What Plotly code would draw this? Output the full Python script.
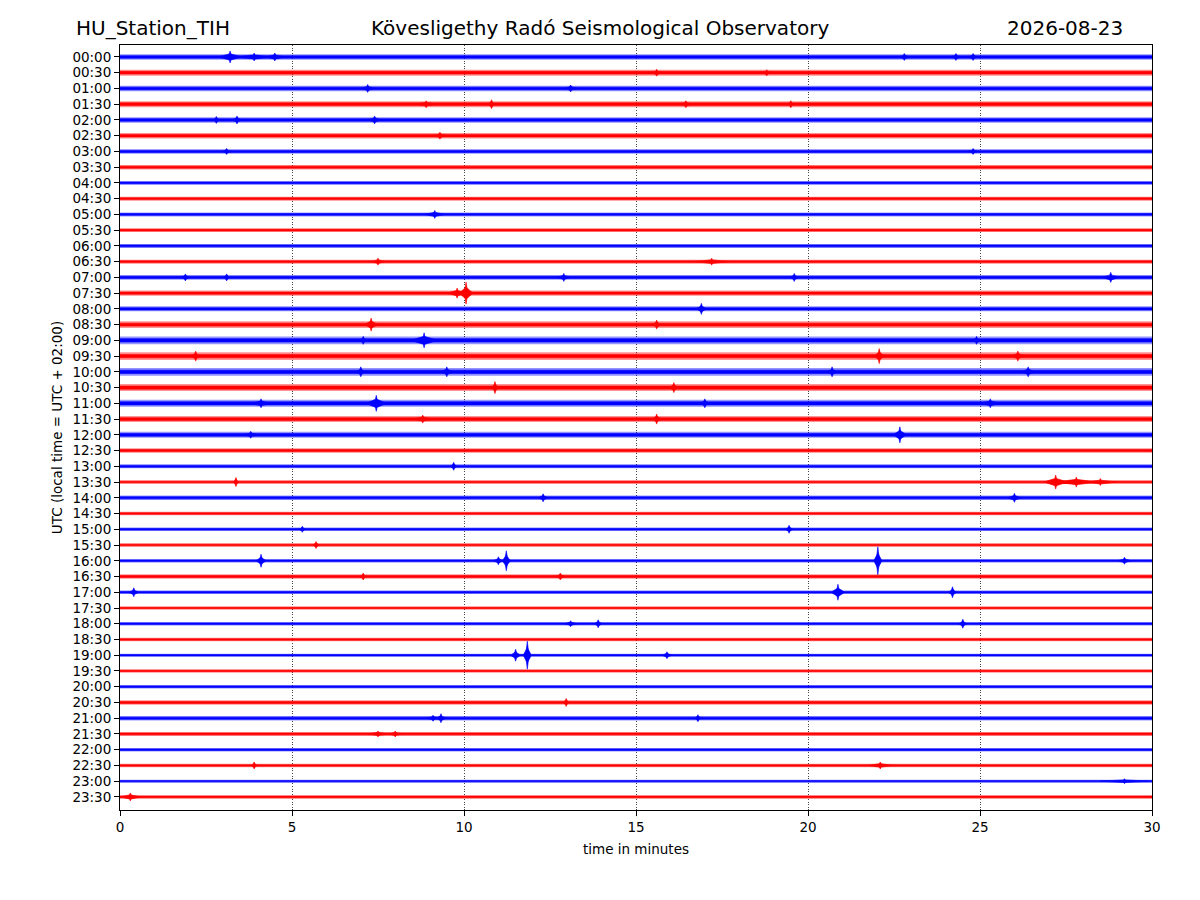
import plotly.graph_objects as go

# ---------------- data ----------------
ROW_LABELS = [
    "00:00", "00:30", "01:00", "01:30", "02:00", "02:30", "03:00", "03:30",
    "04:00", "04:30", "05:00", "05:30", "06:00", "06:30", "07:00", "07:30",
    "08:00", "08:30", "09:00", "09:30", "10:00", "10:30", "11:00", "11:30",
    "12:00", "12:30", "13:00", "13:30", "14:00", "14:30", "15:00", "15:30",
    "16:00", "16:30", "17:00", "17:30", "18:00", "18:30", "19:00", "19:30",
    "20:00", "20:30", "21:00", "21:30", "22:00", "22:30", "23:00", "23:30",
]

# background noise half-amplitude of each 30-minute line (in line spacings)
BASE_AMP = [
    0.178, 0.191, 0.178, 0.191, 0.172, 0.172, 0.146, 0.140, 0.114, 0.127,
    0.127, 0.114, 0.127, 0.127, 0.146, 0.159, 0.159, 0.210, 0.241, 0.241,
    0.241, 0.222, 0.222, 0.191, 0.191, 0.146, 0.127, 0.114, 0.146, 0.114,
    0.114, 0.114, 0.114, 0.140, 0.114, 0.102, 0.114, 0.108, 0.095, 0.102,
    0.114, 0.140, 0.146, 0.127, 0.114, 0.114, 0.095, 0.114,
]

# seismic events / bursts: line index, minute, peak half-amplitude, half-duration (min)
EVENT_ROW = [0, 0, 0, 0, 0, 0, 1, 1, 2, 2, 3, 3, 3, 3, 4, 4, 4, 5, 6, 6,
             10, 13, 13, 14, 14, 14, 14, 14, 15, 15, 16, 17, 17, 18, 18, 18,
             19, 19, 19, 20, 20, 20, 20, 21, 21, 22, 22, 22, 22, 23, 23, 24, 24,
             26, 27, 27, 27, 27, 28, 28, 30, 30, 31, 32, 32, 32, 32, 32, 33, 33,
             34, 34, 34, 36, 36, 36, 38, 38, 38, 41, 42, 42, 42, 43, 43, 45, 45,
             46, 47]
EVENT_MINUTE = [3.2, 3.9, 4.5, 22.8, 24.3, 24.8, 15.6, 18.8, 7.2, 13.1, 10.8, 8.9,
                16.45, 19.5, 2.8, 3.4, 7.4, 9.3, 3.1, 24.8,
                9.15, 7.5, 17.2, 1.9, 3.1, 12.9, 19.6, 28.8, 9.8, 10.06, 16.9, 7.3,
                15.6, 7.07, 8.84, 24.9,
                2.2, 22.07, 26.1, 7.0, 9.5, 20.7, 26.4, 10.9, 16.1, 4.1, 7.45, 17.0,
                25.3, 8.8, 15.6, 3.8, 22.67,
                9.7, 3.37, 27.2, 27.8, 28.5, 12.3, 26.0, 5.3, 19.45, 5.7, 4.1, 11.0,
                11.23, 22.03, 29.2, 7.07, 12.8,
                0.4, 20.87, 24.2, 13.1, 13.9, 24.5, 11.5, 11.84, 15.9, 12.97, 9.1,
                9.33, 16.8, 7.5, 8.0, 3.9, 22.1,
                29.2, 0.3]
EVENT_AMP = [0.38, 0.254, 0.254, 0.222, 0.222, 0.222, 0.222, 0.19, 0.254, 0.222,
             0.286, 0.222, 0.222, 0.222, 0.222, 0.254, 0.254, 0.222, 0.19, 0.19,
             0.254, 0.222, 0.222, 0.222, 0.222, 0.254, 0.254, 0.318, 0.318, 0.699,
             0.35, 0.413, 0.286, 0.254, 0.476, 0.254,
             0.318, 0.476, 0.318, 0.318, 0.318, 0.318, 0.318, 0.381, 0.318, 0.286,
             0.508, 0.286, 0.286, 0.254, 0.318, 0.222, 0.508,
             0.254, 0.286, 0.445, 0.318, 0.222, 0.254, 0.286, 0.19, 0.254, 0.222,
             0.413, 0.254, 0.635, 0.889, 0.222, 0.222, 0.222,
             0.286, 0.508, 0.35, 0.19, 0.254, 0.286, 0.381, 0.889, 0.222, 0.254,
             0.19, 0.286, 0.222, 0.19, 0.19, 0.222, 0.222,
             0.159, 0.254]
EVENT_DURATION = [0.35, 0.5, 0.3, 0.15, 0.15, 0.15, 0.15, 0.15, 0.2, 0.2, 0.12, 0.3,
                  0.2, 0.12, 0.1, 0.15, 0.2, 0.2, 0.15, 0.15,
                  0.3, 0.2, 0.5, 0.15, 0.1, 0.2, 0.15, 0.25, 0.3, 0.2, 0.15, 0.2,
                  0.15, 0.15, 0.4, 0.15,
                  0.15, 0.15, 0.2, 0.15, 0.2, 0.15, 0.2, 0.12, 0.15, 0.3, 0.3, 0.15,
                  0.3, 0.3, 0.15, 0.2, 0.2,
                  0.1, 0.08, 0.35, 0.6, 0.5, 0.15, 0.2, 0.1, 0.12, 0.1, 0.15, 0.15,
                  0.12, 0.12, 0.2, 0.1, 0.15,
                  0.15, 0.2, 0.12, 0.2, 0.12, 0.12, 0.15, 0.12, 0.15, 0.1, 0.2,
                  0.15, 0.1, 0.3, 0.2, 0.1, 0.35,
                  0.7, 0.3]

MINUTES_PER_LINE = 30
LINE_COLORS = ["#0000ff", "#ff0000"]
HALO_COLORS = ["rgba(0,0,255,0.42)", "rgba(255,0,0,0.42)"]
SPIKE_HALF_WIDTH = 0.05  # minutes

# ---------------- figure ----------------
fig = go.Figure()

for r, label in enumerate(ROW_LABELS):
    color = LINE_COLORS[r % 2]
    a = BASE_AMP[r]
    # outer noise envelope (lighter)
    fig.add_trace(go.Scatter(
        x=[0, MINUTES_PER_LINE, MINUTES_PER_LINE, 0, 0],
        y=[r - a, r - a, r + a, r + a, r - a],
        mode="lines", fill="toself", fillcolor=HALO_COLORS[r % 2],
        line=dict(width=0), hoverinfo="skip", showlegend=False,
    ))
    # dense core of the trace plus events (coda body + sharp peak)
    core = a * 0.45
    xs = [0, MINUTES_PER_LINE, MINUTES_PER_LINE, 0, 0, None]
    ys = [r - core, r - core, r + core, r + core, r - core, None]
    for er, em, ea, ed in zip(EVENT_ROW, EVENT_MINUTE, EVENT_AMP, EVENT_DURATION):
        if er != r:
            continue
        x0 = max(0, em - ed)
        x1 = min(MINUTES_PER_LINE, em + ed)
        xs += [x0, em, x1, em, x0, None]
        ys += [r, r - 0.55 * ea, r, r + 0.55 * ea, r, None]
        s0 = max(0, em - SPIKE_HALF_WIDTH)
        s1 = min(MINUTES_PER_LINE, em + SPIKE_HALF_WIDTH)
        xs += [s0, em, s1, em, s0, None]
        ys += [r, r - ea, r, r + ea, r, None]
    fig.add_trace(go.Scatter(
        x=xs, y=ys, mode="lines", fill="toself",
        fillcolor=color, line=dict(color=color, width=0.6),
        hoverinfo="skip", showlegend=False, name=label,
    ))

# the page is placed 8 px from the window corner; margins compensate for it
fig.update_layout(
    width=1200, height=900,
    margin=dict(l=112, r=56, t=37, b=98),
    plot_bgcolor="white", paper_bgcolor="white",
    font=dict(family="DejaVu Sans", color="black", size=13),
    showlegend=False,
)

fig.update_xaxes(
    range=[0, 30], tickmode="array", tickvals=[0, 5, 10, 15, 20, 25, 30],
    ticks="outside", ticklen=5, tickwidth=1, tickcolor="black",
    showline=True, mirror=True, linecolor="black", linewidth=1,
    showgrid=True, gridcolor="#444444", gridwidth=0.8, griddash="1px,1.6px",
    zeroline=False, tickfont=dict(size=13.5),
    title=dict(text="time in minutes", font=dict(size=13.5), standoff=10),
)
fig.update_yaxes(
    range=[47.83, -0.76], tickmode="array",
    tickvals=list(range(len(ROW_LABELS))), ticktext=ROW_LABELS,
    ticks="outside", ticklen=5, tickwidth=1, tickcolor="black",
    showline=True, mirror=True, linecolor="black", linewidth=1,
    showgrid=False, zeroline=False, tickfont=dict(size=13.5),
    title=dict(text="UTC (local time = UTC + 02:00)", font=dict(size=13.5), standoff=6),
)

title_font = dict(family="DejaVu Sans", size=20, color="black")
fig.add_annotation(text="HU_Station_TIH", xref="paper", yref="paper",
                   x=-0.0446, y=1.0222, xanchor="left", yanchor="middle",
                   showarrow=False, font=title_font)
fig.add_annotation(text="Kövesligethy Radó Seismological Observatory",
                   xref="paper", yref="paper", x=0.4651, y=1.0222,
                   xanchor="center", yanchor="middle", showarrow=False, font=title_font)
fig.add_annotation(text="2026-08-23", xref="paper", yref="paper",
                   x=0.9738, y=1.0222, xanchor="right", yanchor="middle",
                   showarrow=False, font=title_font)

fig.write_html("out.html")
